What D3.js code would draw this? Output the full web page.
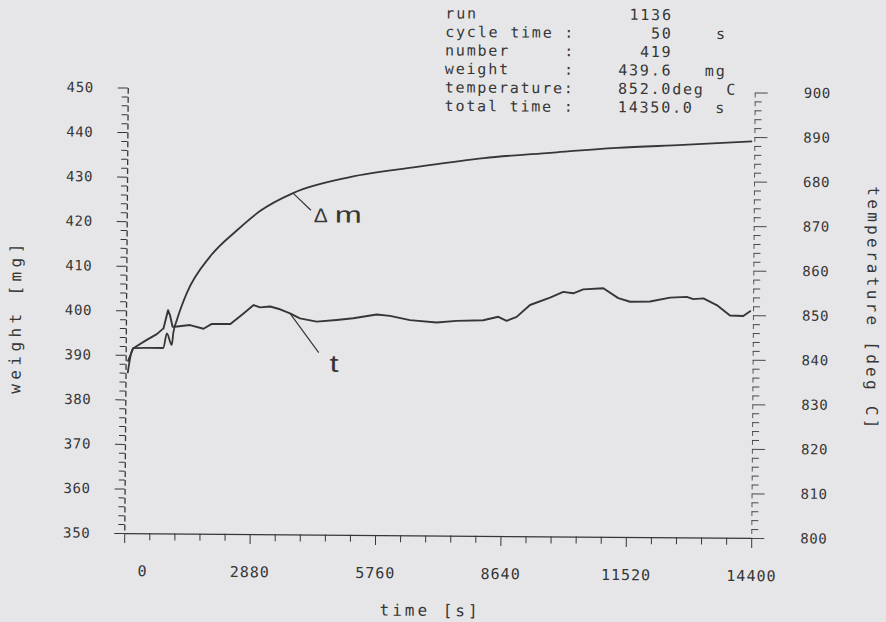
<!DOCTYPE html>
<html>
<head>
<meta charset="utf-8">
<script src="https://cdn.jsdelivr.net/npm/d3@7"></script>
<style>
  body { margin: 0; background: #e6e6e8; }
  svg { display: block; }
</style>
</head>
<body>
<div id="chart"></div>
<script>
// values
var timeLabels = [0, 2880, 5760, 8640, 11520, 14400];
var weightLabels = [350, 360, 370, 380, 390, 400, 410, 420, 430, 440, 450];
var tempLabels = ["800", "810", "820", "830", "840", "850", "860", "870", "680", "890", "900"];

// weight (delta m) series, time [s] / weight [mg]
var massTime  = [50, 175, 500, 864, 942, 1057, 1090, 1170, 1390, 1920, 2529, 3059, 3815, 5122, 6658, 8195, 9719, 11245, 12763, 14350];
var massValue = [385.9, 391.5, 391.6, 391.6, 394.9, 392.3, 395.0, 397.9, 403.9, 412.2, 418.1, 422.5, 426.6, 430.3, 432.7, 434.8, 436.1, 437.3, 438.1, 439.0];

// temperature (t) series, time [s] / deg C
var tempTime  = [50, 175, 482, 712, 864, 965, 1010, 1073, 1125, 1472, 1783, 1972, 2400, 2700, 2930, 3078,
                 3307, 3537, 3767, 3996, 4380, 4839, 5220, 5758, 6063, 6523, 7136, 7595, 8206, 8551, 8744, 8973,
                 9277, 9736, 10038, 10268, 10498, 10958, 11303, 11575, 12034, 12493, 12876, 13028, 13258, 13565,
                 13871, 14177, 14350];
var tempValue = [838.5, 841.5, 843.4, 844.7, 846.0, 850.1, 849.0, 846.4, 846.4, 846.8, 846.0, 847.1, 847.1, 849.5, 851.4, 850.9,
                 851.1, 850.5, 849.6, 848.5, 847.8, 848.2, 848.6, 849.5, 849.2, 848.3, 847.8, 848.2, 848.4, 849.2, 848.3, 849.2,
                 851.9, 853.6, 854.9, 854.6, 855.5, 855.8, 853.6, 852.8, 852.9, 853.8, 854.0, 853.5, 853.7, 852.2,
                 849.9, 849.8, 851.0];

// run info block
var infoLabels = ["run", "cycle time :", "number     :", "weight     :", "temperature:", "total time :"];
var infoValues = ["1136", "50", "419", "439.6", "852.0", "14350.0"];
var infoUnits  = ["", "s", "", "mg", "deg C", "s"];


const width = 886, height = 622;
const ink = "#363636";
const mono = "'DejaVu Sans Mono', monospace";

const svg = d3.select("#chart").append("svg")
    .attr("width", width)
    .attr("height", height);

svg.append("rect")
    .attr("width", width)
    .attr("height", height)
    .attr("fill", "#e6e6e8");

// the scan is a little tilted
const g = svg.append("g").attr("transform", "rotate(0.45,440,312)");

const x = d3.scaleLinear().domain([0, 14400]).range([126, 753]);
const yW = d3.scaleLinear().domain([350, 450]).range([535.5, 90]);
const yT = d3.scaleLinear().domain([800, 900]).range([535.5, 90]);

const pitch = yW(448) - yW(450);   // px between small ticks

// left axis (weight)
const axL = g.append("g")
    .attr("transform", "translate(" + x(0) + ",0)")
    .call(d3.axisLeft(yW)
        .tickValues(d3.range(350, 451, 2))
        .tickSize(6).tickSizeOuter(0).tickPadding(28)
        .tickFormat(function(d){ return d % 10 ? "" : d; }));

axL.selectAll(".tick").filter(function(d){ return d % 10 === 0; })
    .select("line").attr("x2", -10);
axL.select(".domain")
    .attr("stroke-dasharray", (pitch * 0.65) + " " + (pitch * 0.35))
    .attr("stroke-dashoffset", pitch * 0.65);

// right axis (temperature)
const axR = g.append("g")
    .attr("transform", "translate(" + x(14400) + ",0)")
    .call(d3.axisRight(yT)
        .tickValues(d3.range(800, 901, 2))
        .tickSize(7).tickSizeOuter(0).tickPadding(42)
        .tickFormat(function(d){ return d % 10 ? "" : tempLabels[(d - 800) / 10]; }));

axR.selectAll(".tick").filter(function(d){ return d % 10 === 0; })
    .select("line").attr("x2", 13);
axR.selectAll(".tick line").attr("stroke-width", 0.9);
axR.select(".domain")
    .attr("stroke-dasharray", (pitch * 0.5) + " " + (pitch * 0.5))
    .attr("stroke-dashoffset", pitch * 0.5);

// bottom axis (time)
const axB = g.append("g")
    .attr("transform", "translate(0," + yW(350) + ")")
    .call(d3.axisBottom(x)
        .tickValues(d3.range(0, 14401, 576))
        .tickSize(7).tickSizeOuter(0).tickPadding(25.5)
        .tickFormat(function(d){ return timeLabels.indexOf(d) >= 0 ? d : ""; }));

axB.selectAll(".tick").filter(function(d){ return d % 2880 === 0; })
    .select("line").attr("y2", 10);
axB.selectAll(".tick").filter(function(d){ return d === 0; })
    .select("text").attr("dx", 18);

// axis styling
[axL, axR, axB].forEach(function(a){
    a.attr("font-family", mono).attr("font-size", 14);
    a.selectAll("line").attr("stroke", ink);
    a.select(".domain").attr("stroke", ink).attr("stroke-width", a === axR ? 0.8 : 1.3);
    a.selectAll("text").attr("fill", ink).style("letter-spacing", "0.6px");
});
axB.attr("font-size", 15);
axB.selectAll("text").style("letter-spacing", "1px");

// curves
const massLine = d3.line()
    .x(function(i){ return x(massTime[i]); })
    .y(function(i){ return yW(massValue[i]); })
    .curve(d3.curveMonotoneX);

const tempLine = d3.line()
    .x(function(i){ return x(tempTime[i]); })
    .y(function(i){ return yT(tempValue[i]); });

g.append("path")
    .attr("d", massLine(d3.range(massTime.length)))
    .attr("fill", "none")
    .attr("stroke", ink)
    .attr("stroke-width", 1.8)
    .attr("stroke-linejoin", "round");

g.append("path")
    .attr("d", tempLine(d3.range(tempTime.length)))
    .attr("fill", "none")
    .attr("stroke", ink)
    .attr("stroke-width", 1.9)
    .attr("stroke-linejoin", "round");

// curve labels with leaders
var mx = x(3815), my = yW(426.6);
g.append("line")
    .attr("x1", mx).attr("y1", my)
    .attr("x2", mx + 18).attr("y2", my + 17)
    .attr("stroke", ink).attr("stroke-width", 1.2);
g.append("text")
    .attr("x", mx + 21).attr("y", my + 29)
    .attr("font-family", "'Liberation Sans', Arial, sans-serif")
    .attr("font-size", 20)
    .attr("textLength", 14)
    .attr("lengthAdjust", "spacingAndGlyphs")
    .attr("fill", ink)
    .text("Δ");
g.append("text")
    .attr("x", mx + 42).attr("y", my + 29)
    .attr("font-family", "'Liberation Sans', Arial, sans-serif")
    .attr("font-size", 23)
    .attr("textLength", 27)
    .attr("lengthAdjust", "spacingAndGlyphs")
    .attr("fill", ink)
    .text("m");

var tx = x(3767), ty = yT(849.6);
g.append("line")
    .attr("x1", tx).attr("y1", ty)
    .attr("x2", tx + 29).attr("y2", ty + 39)
    .attr("stroke", ink).attr("stroke-width", 1.2);
g.append("text")
    .attr("x", tx + 40).attr("y", ty + 58)
    .attr("font-family", "'Liberation Sans', Arial, sans-serif")
    .attr("font-size", 24)
    .attr("textLength", 9)
    .attr("lengthAdjust", "spacingAndGlyphs")
    .attr("fill", ink)
    .text("t");

// axis titles
g.append("text")
    .attr("transform", "translate(21,322) rotate(-90)")
    .attr("text-anchor", "middle")
    .attr("font-family", mono).attr("font-size", 16)
    .attr("textLength", 150)
    .attr("fill", ink)
    .text("weight [mg]");

g.append("text")
    .attr("transform", "translate(867,304) rotate(90)")
    .attr("text-anchor", "middle")
    .attr("font-family", mono).attr("font-size", 16)
    .attr("textLength", 242)
    .attr("fill", ink)
    .text("temperature [deg C]");

g.append("text")
    .attr("x", 431).attr("y", 616)
    .attr("text-anchor", "middle")
    .attr("font-family", mono).attr("font-size", 16)
    .attr("textLength", 98)
    .attr("fill", ink)
    .text("time [s]");

// run info (plotter layout: value column 16, units ending col 25)
function infoLine(i){
    var s = infoLabels[i];
    while (s.length < 16) s += " ";
    var v = infoValues[i];
    while (v.length < 5) v = " " + v;
    s += v;
    var u = infoUnits[i];
    if (u) {
        if (u.indexOf(" ") > 0) s += u.replace(" ", "  ");
        else { while (s.length + u.length < 26) u = " " + u; s += u; }
    }
    return s;
}

g.append("g")
    .selectAll("text")
    .data(d3.range(infoLabels.length))
    .enter()
    .append("text")
    .attr("x", 443)
    .attr("y", function(i){ return 18.4 + i * 18.5; })
    .attr("xml:space", "preserve")
    .style("white-space", "pre")
    .style("letter-spacing", "1.8px")
    .attr("font-family", mono)
    .attr("font-size", 15)
    .attr("fill", ink)
    .text(function(i){ return infoLine(i); });
</script>
</body>
</html>
